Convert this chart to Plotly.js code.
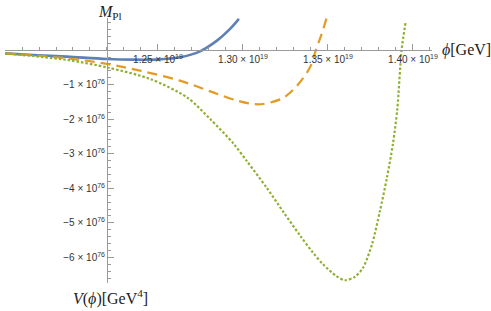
<!DOCTYPE html>
<html>
<head>
<meta charset="utf-8">
<script src="https://cdn.plot.ly/plotly-3.0.1.min.js"></script>
<style>html,body{margin:0;padding:0;background:#fff;}#chart{width:491px;height:311px;}</style>
</head>
<body>
<div id="chart"></div>
<script>
// phi in units of 1e19 GeV, V in units of 1e76 GeV^4
const phiBlue = [1.16, 1.1765, 1.1965, 1.22, 1.2353, 1.2512, 1.2629, 1.2747, 1.2847, 1.2924, 1.2976];
const vBlue   = [-0.093, -0.139, -0.188, -0.255, -0.275, -0.267, -0.209, -0.035, 0.275, 0.614, 0.904];

const phiOrange = [1.16, 1.1965, 1.22, 1.2394, 1.2629, 1.2824, 1.2982, 1.3071, 1.3118, 1.3235, 1.3318, 1.3394, 1.3429, 1.3463, 1.3492];
const vOrange   = [-0.093, -0.238, -0.40, -0.594, -0.884, -1.223, -1.484, -1.565, -1.559, -1.386, -1.029, -0.499, 0.006, 0.47, 0.933];

const phiGreen = [1.16, 1.1965, 1.22, 1.2453, 1.2671, 1.2806, 1.2943, 1.3024, 1.3139, 1.3240, 1.3335, 1.3410, 1.3471, 1.3547, 1.36, 1.3659, 1.3706, 1.3759, 1.3806, 1.3847, 1.3882, 1.3908, 1.3933, 1.3957];
const vGreen   = [-0.093, -0.284, -0.499, -0.833, -1.367, -1.99, -2.70, -3.22, -3.98, -4.70, -5.36, -5.85, -6.20, -6.53, -6.66, -6.56, -6.30, -5.62, -4.65, -3.69, -2.72, -1.70, 0.0, 0.81];

const xTickVals = [1.25, 1.30, 1.35, 1.40];
const xTickText = ['1.25 × 10<sup>19</sup>', '1.30 × 10<sup>19</sup>', '1.35 × 10<sup>19</sup>', '1.40 × 10<sup>19</sup>'];
const yTickVals = [-1, -2, -3, -4, -5, -6];
const yTickText = ['−1 × 10<sup>76</sup>', '−2 × 10<sup>76</sup>', '−3 × 10<sup>76</sup>', '−4 × 10<sup>76</sup>', '−5 × 10<sup>76</sup>', '−6 × 10<sup>76</sup>'];

const xRange = [1.16, 1.4112];
const yRange = [-6.74, 0.93];
const xCross = 1.22, yCross = 0;

const traces = [
  {x: phiBlue, y: vBlue, mode: 'lines', line: {color: '#5e81b5', width: 2.6, shape: 'spline'}},
  {x: phiOrange, y: vOrange, mode: 'lines', line: {color: '#e19c24', width: 2.2, dash: '10px,6px', shape: 'spline'}},
  {x: phiGreen, y: vGreen, mode: 'lines', line: {color: '#8fb032', width: 2.2, dash: '2.5px,2px', shape: 'spline', smoothing: 0.8}}
];

const axCol = '#9a9a9a';
const tickFont = {family: 'Liberation Sans, Arial, sans-serif', size: 10, color: '#333'};
const serif = {family: 'Liberation Serif, Times New Roman, serif', size: 16, color: '#222'};

const layout = {
  width: 491, height: 311,
  margin: {l: 5, r: 59, t: 18, b: 28},
  showlegend: false,
  paper_bgcolor: '#fff', plot_bgcolor: '#fff',
  xaxis: {
    range: xRange, showgrid: false, zeroline: false,
    anchor: 'free', position: (yCross - yRange[0]) / (yRange[1] - yRange[0]),
    showline: true, linecolor: axCol, linewidth: 1,
    tickmode: 'array', tickvals: xTickVals, ticktext: xTickText,
    ticks: 'inside', ticklen: 6, tickcolor: axCol, tickfont: tickFont,
    minor: {ticks: 'inside', ticklen: 3.5, dtick: 0.01, tick0: 1.16, tickcolor: axCol, showgrid: false}
  },
  yaxis: {
    range: yRange, showgrid: false, zeroline: false,
    anchor: 'free', position: (xCross - xRange[0]) / (xRange[1] - xRange[0]),
    showline: true, linecolor: axCol, linewidth: 1,
    tickmode: 'array', tickvals: yTickVals, ticktext: yTickText,
    ticks: 'inside', ticklen: 6, tickcolor: axCol, tickfont: tickFont,
    minor: {ticks: 'inside', ticklen: 3.5, dtick: 0.2, tick0: 0, tickcolor: axCol, showgrid: false}
  },
  annotations: [
    {xref: 'paper', yref: 'paper', x: 105/427, y: 1, xanchor: 'center', yanchor: 'bottom', yshift: -6,
     text: '<i>M</i><sub>Pl</sub>', showarrow: false, font: serif},
    {xref: 'paper', yref: 'y', x: 1, y: 0, xanchor: 'left', yanchor: 'middle', xshift: 8,
     text: '<i>ϕ</i>[GeV]', showarrow: false, font: serif},
    {xref: 'paper', yref: 'paper', x: 105/427, y: 0, xanchor: 'center', yanchor: 'top', yshift: -2,
     text: '<i>V</i>(<i>ϕ</i>)[GeV<sup>4</sup>]', showarrow: false, font: serif}
  ]
};

Plotly.newPlot('chart', traces, layout, {displayModeBar: false, staticPlot: true});
</script>
</body>
</html>
